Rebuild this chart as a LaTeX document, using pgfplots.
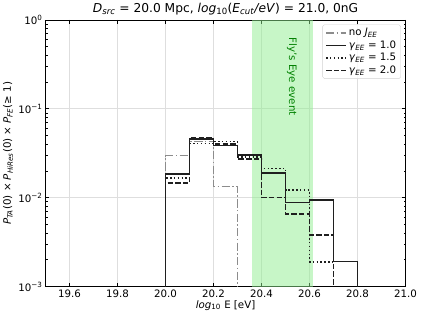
\documentclass[border=0pt]{standalone}
\usepackage{fontspec}
\setmainfont{DejaVu Sans}
\usepackage{pgfplots}
\pgfplotsset{compat=1.18}
\definecolor{lgreen}{RGB}{144,238,144}
\definecolor{fegreen}{RGB}{0,128,0}
\definecolor{nojgray}{RGB}{140,140,140}
\definecolor{gridc}{RGB}{222,222,222}
\begin{document}
\begin{tikzpicture}
\begin{axis}[
  scale only axis, width=393.6pt, height=291.6pt,
  ymode=log, xmin=19.5, xmax=21.0, ymin=1e-3, ymax=1,
  xtick={19.6,19.8,20.0,20.2,20.4,20.6,20.8,21.0},
  xticklabels={19.6,19.8,20.0,20.2,20.4,20.6,20.8,21.0},
  ytick={1e-3,1e-2,1e-1,1},
  yticklabels={10\textsuperscript{−3},10\textsuperscript{−2},10\textsuperscript{−1},10\textsuperscript{0}},
  grid=major, major grid style={gridc, line width=0.9pt},
  tick style={black, line width=0.9pt},
  major tick length=3.9pt, minor tick length=2.2pt,
  axis line style={line width=0.9pt},
  tick label style={font=\fontsize{11.2}{13}\selectfont},
  title={\textit{D}\textsubscript{\textit{src}} = 20.0 Mpc, \textit{log}\textsubscript{10}(\textit{E}\textsubscript{\textit{cut}}\textit{/eV}) = 21.0, 0nG},
  title style={font=\fontsize{13.4}{15}\selectfont, yshift=-4pt},
  xlabel={\textit{log}\textsubscript{10} E [eV]},
  ylabel={\textit{P}\textsubscript{\textit{TA}}(0) × \textit{P}\textsubscript{\textit{HiRes}}(0) × \textit{P}\textsubscript{\textit{FE}}(≥ 1)},
  label style={font=\fontsize{11.2}{13}\selectfont},
  xlabel style={yshift=4pt},
  ylabel style={yshift=-1pt},
  legend cell align=left,
  legend style={at={(1,1)}, anchor=north east, xshift=-5pt, yshift=-5pt,
    draw=gray!35, rounded corners=2pt, fill=white, fill opacity=0.8, text opacity=1,
    inner xsep=3pt, inner ysep=2pt, row sep=0pt,
    font=\fontsize{11.2}{13}\selectfont},
  legend image code/.code={\draw[#1] (0pt,0pt) -- (22pt,0pt);},
]
\addplot[draw=none, fill=lgreen, fill opacity=0.5, forget plot]
  coordinates {(20.362,1e-3) (20.362,1) (20.613,1) (20.613,1e-3)} -- cycle;

\addplot[const plot, nojgray, line width=1.6pt, dash pattern=on 9pt off 2.6pt on 1.6pt off 2.6pt]
  coordinates {(19.9,1e-5) (20.0,0.0297) (20.1,0.043) (20.2,0.0134) (20.3,1e-5) (20.4,1e-5)};
\addlegendentry{no \textit{J}\textsubscript{\textit{EE}}}

\addplot[const plot, black!88, line width=1.6pt]
  coordinates {(19.9,1e-5) (20.0,0.0185) (20.1,0.0457) (20.2,0.0385) (20.3,0.0304) (20.4,0.0191) (20.5,0.0089) (20.6,0.0094) (20.7,0.00193) (20.8,1e-5) (20.9,1e-5)};
\addlegendentry{\textit{γ}\textsubscript{\textit{EE}} = 1.0}

\addplot[const plot, black!88, line width=1.6pt, dash pattern=on 1.6pt off 2.6pt]
  coordinates {(19.9,1e-5) (20.0,0.0167) (20.1,0.0408) (20.2,0.0430) (20.3,0.0289) (20.4,0.0212) (20.5,0.0122) (20.6,0.0019) (20.7,1e-5) (20.8,1e-5)};
\addlegendentry{\textit{γ}\textsubscript{\textit{EE}} = 1.5}

\addplot[const plot, black!88, line width=1.6pt, dash pattern=on 5.9pt off 2.5pt]
  coordinates {(19.9,1e-5) (20.0,0.0146) (20.1,0.0477) (20.2,0.0401) (20.3,0.0272) (20.4,0.0100) (20.5,0.0066) (20.6,0.0038) (20.7,1e-5) (20.8,1e-5)};
\addlegendentry{\textit{γ}\textsubscript{\textit{EE}} = 2.0}

\node[rotate=-90, text=fegreen, font=\fontsize{11.2}{13}\selectfont] at (axis cs:20.527,0.23) {Fly's Eye event};
\end{axis}
\path (current axis.south west) ++(-49.1pt,-35.3pt) rectangle ++(460.7pt,344pt);
\end{tikzpicture}
\end{document}
